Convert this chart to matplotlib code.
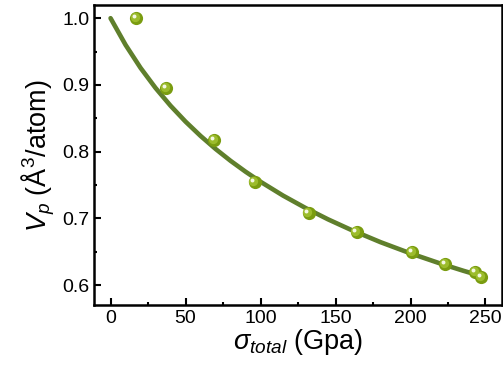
import matplotlib
matplotlib.use('Agg')
import matplotlib.pyplot as plt
import matplotlib.transforms as mtransforms
from matplotlib.ticker import MultipleLocator

plt.rcParams['font.family'] = ['Liberation Sans', 'DejaVu Sans']
plt.rcParams['mathtext.fontset'] = 'custom'
plt.rcParams['mathtext.rm'] = 'Liberation Sans'
plt.rcParams['mathtext.it'] = 'Liberation Sans:italic'

# data points (sigma_total in GPa, V_p)
sigma = [17, 37, 69, 96, 132, 164, 201, 223, 243, 247]
vp = [1.000, 0.895, 0.817, 0.754, 0.708, 0.679, 0.649, 0.631, 0.619, 0.612]

# fitted curve
fit_x = [0, 10, 20, 30, 40, 50, 60, 70, 80, 90, 100, 115, 130, 145, 160, 180, 200, 220, 235, 248]
fit_y = [1.0, 0.960, 0.9255, 0.8954, 0.8688, 0.8450, 0.8236, 0.8041, 0.7863, 0.7700,
         0.7549, 0.7342, 0.7156, 0.6986, 0.6832, 0.6644, 0.6476, 0.6323, 0.6217, 0.613]

fig = plt.figure(figsize=(5.03, 3.69), dpi=100)
ax = fig.add_axes([0.187, 0.173, 0.811, 0.813])

ax.plot(fit_x, fit_y, color='#5f7f2c', lw=3.3, solid_capstyle='round', zorder=2)

# sphere-like markers
ax.scatter(sigma, vp, s=90, color='#7a9c10', zorder=3, linewidths=0)
inner = mtransforms.offset_copy(ax.transData, fig=fig, x=-0.8, y=0.8, units='points')
ax.scatter(sigma, vp, s=45, color='#9cbc2c', zorder=4, linewidths=0, transform=inner)
hl = mtransforms.offset_copy(ax.transData, fig=fig, x=-1.6, y=1.6, units='points')
ax.scatter(sigma, vp, s=8, color='#f4f8e4', zorder=5, linewidths=0, transform=hl)

ax.set_xlim(-11, 261)
ax.set_ylim(0.570, 1.0195)
ax.set_xticks([0, 50, 100, 150, 200, 250])
ax.set_yticks([0.6, 0.7, 0.8, 0.9, 1.0])
ax.xaxis.set_minor_locator(MultipleLocator(25))
ax.yaxis.set_minor_locator(MultipleLocator(0.05))
ax.tick_params(which='both', direction='in', width=1.5, labelsize=14)
ax.tick_params(which='major', length=5)
ax.tick_params(which='minor', length=2.5)
for s in ax.spines.values():
    s.set_linewidth(1.8)

ax.set_xlabel(r'$\sigma_{total}$ (Gpa)', fontsize=19.5, labelpad=0)
ax.set_ylabel(r'$V_p$ (Å$^3$/atom)', fontsize=19.5, labelpad=4)

fig.savefig('out.png', dpi=100)
